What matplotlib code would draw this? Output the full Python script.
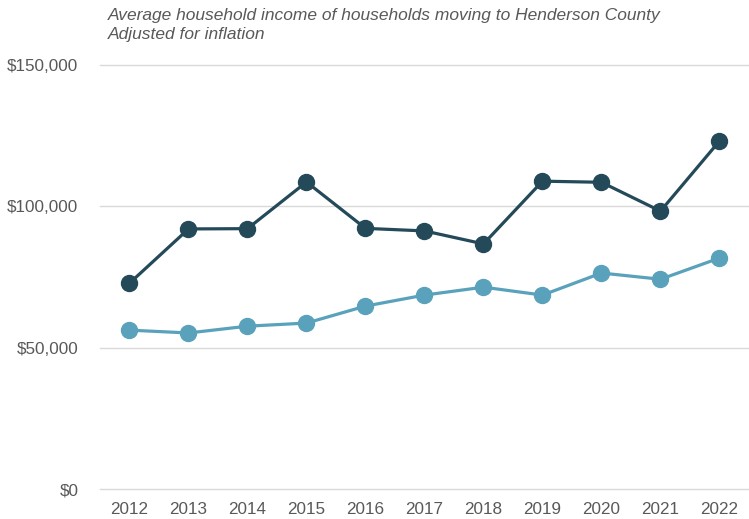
import matplotlib.pyplot as plt
from matplotlib.ticker import FuncFormatter

plt.rcParams['font.family'] = ['Liberation Sans', 'DejaVu Sans']

years = ['2012', '2013', '2014', '2015', '2016', '2017', '2018', '2019', '2020', '2021', '2022']
income_high = [72800, 92000, 92100, 108600, 92200, 91300, 86700, 108900, 108500, 98300, 123100]
income_low = [56200, 55200, 57600, 58700, 64700, 68600, 71400, 68600, 76400, 74200, 81700]

dark = '#244a5a'
light = '#5aa2bb'
text_gray = '#595959'

fig = plt.figure(figsize=(7.49, 5.19), dpi=100)
ax = fig.add_axes([0.1335, 0.0578, 0.8665, 0.817])

x = range(len(years))
ax.plot(x, income_high, color=dark, lw=2.3, marker='o', ms=11.5, zorder=3)
ax.plot(x, income_low, color=light, lw=2.3, marker='o', ms=11.5, zorder=3)

ax.set_xlim(-0.5, len(years) - 0.5)
ax.set_ylim(0, 150000)
ax.set_yticks([0, 50000, 100000, 150000])
ax.yaxis.set_major_formatter(FuncFormatter(lambda v, p: f'${v:,.0f}'))
ax.set_xticks(list(x))
ax.set_xticklabels(years)
ax.grid(axis='y', color='#d9d9d9', lw=1)
for gl in ax.get_ygridlines():
    gl.set_clip_on(False)
ax.set_axisbelow(True)
for s in ax.spines.values():
    s.set_visible(False)
ax.tick_params(length=0, labelsize=12.3, colors=text_gray)
ax.tick_params(axis='y', pad=15.5)
ax.tick_params(axis='x', pad=9)

fig.text(0.144, 0.985, 'Average household income of households moving to Henderson County\nAdjusted for inflation',
         ha='left', va='top', fontsize=12.5, style='italic', color=text_gray, linespacing=1.35)

fig.savefig('out.png', dpi=100)
